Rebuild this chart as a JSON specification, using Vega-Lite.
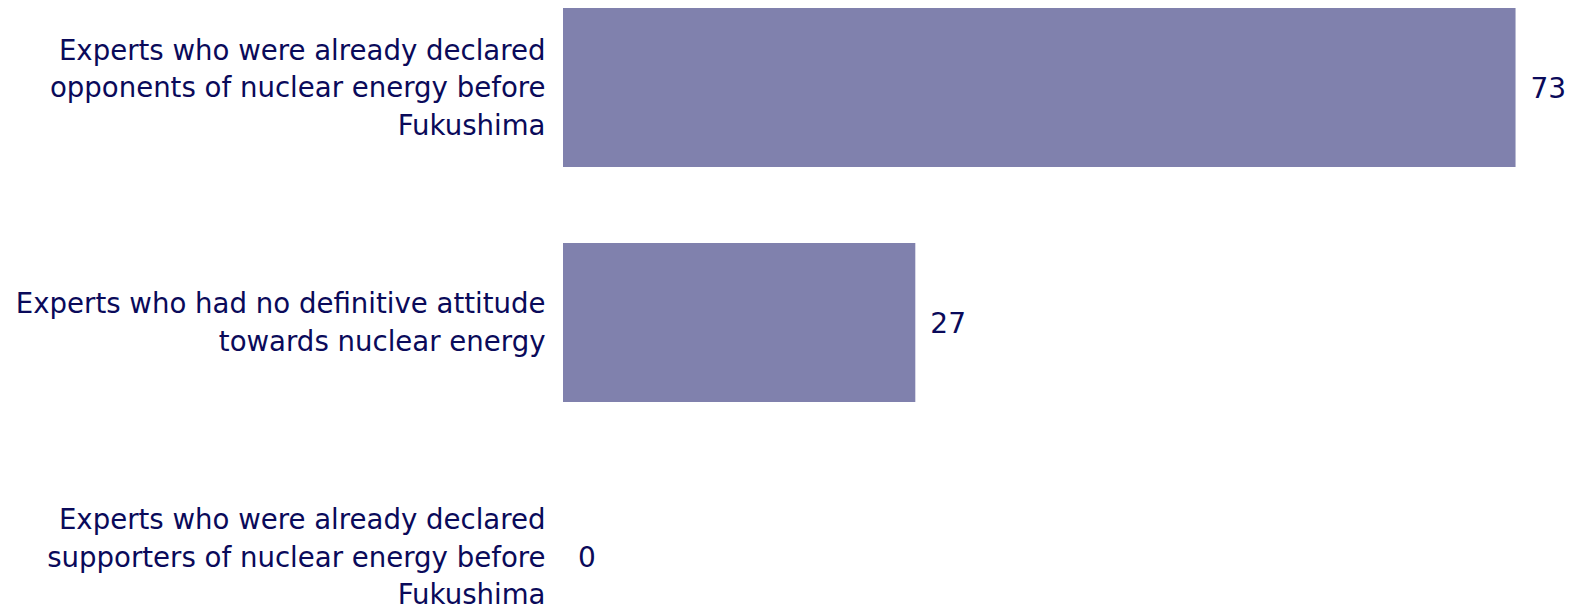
{
  "$schema": "https://vega.github.io/schema/vega-lite/v6.json",
  "autosize": {"type": "none"},
  "padding": {"left": 563, "top": 0, "right": 0, "bottom": 0},
  "width": 1008,
  "height": 608,
  "background": "white",
  "data": {"values": [
    {"group": "Experts who were already declared|opponents of nuclear energy before|Fukushima", "value": 73},
    {"group": "Experts who had no definitive attitude|towards nuclear energy", "value": 27},
    {"group": "Experts who were already declared|supporters of nuclear energy before|Fukushima", "value": 0}
  ]},
  "encoding": {
    "y": {
      "field": "group",
      "type": "nominal",
      "sort": null,
      "scale": {"range": [8, 637], "paddingInner": 0.3234, "paddingOuter": 0},
      "axis": {
        "title": null,
        "domain": false,
        "ticks": false,
        "grid": false,
        "labelFontSize": 27.6,
        "labelFont": "DejaVu Sans",
        "labelColor": "#0a0a5a",
        "labelPadding": 18,
        "labelLimit": 700,
        "labelOverlap": false,
        "labelLineHeight": 37.5,
        "labelExpr": "split(datum.label, '|')",
        "labelAlign": "right",
        "labelBaseline": "middle",
        "labelOffset": {"condition": {"test": "indexof(datum.label, 'definitive') >= 0", "value": -17.5}, "value": -36}
      }
    },
    "x": {
      "field": "value",
      "type": "quantitative",
      "scale": {"domain": [0, 77.25], "nice": false},
      "axis": null
    }
  },
  "layer": [
    {"mark": {"type": "bar", "color": "#8081ad"}},
    {
      "mark": {"type": "text", "align": "left", "baseline": "middle", "dx": 15, "dy": 2, "fontSize": 28, "font": "DejaVu Sans", "color": "#0a0a5a"},
      "encoding": {"text": {"field": "value", "type": "quantitative"}}
    }
  ],
  "config": {"view": {"stroke": null}}
}
